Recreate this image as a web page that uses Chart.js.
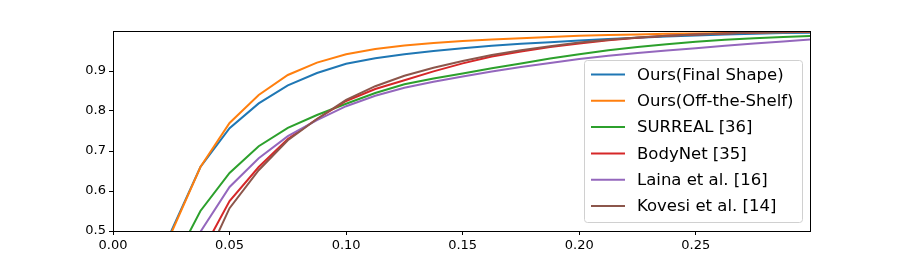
<!DOCTYPE html>
<html>
<head>
<meta charset="utf-8">
<script src="https://cdn.jsdelivr.net/npm/chart.js@4"></script>
<style>
  html, body { margin: 0; padding: 0; background: #fff; }
  #wrap { width: 900px; height: 260px; }
</style>
</head>
<body>
<div id="wrap"><canvas id="pckChart" width="900" height="260"></canvas></div>
<script>
const thresholds = [0, 0.0125, 0.025, 0.0375, 0.05, 0.0625, 0.075, 0.0875, 0.1, 0.1125, 0.125, 0.1375,
  0.15, 0.1625, 0.175, 0.1875, 0.2, 0.2125, 0.225, 0.2375, 0.25, 0.2625, 0.275, 0.2875, 0.3];

const finalShape = [0, 0.2, 0.50, 0.66, 0.757, 0.819, 0.864, 0.895, 0.918, 0.932, 0.942, 0.950,
  0.957, 0.963, 0.968, 0.972, 0.976, 0.980, 0.983, 0.986, 0.989, 0.991, 0.993, 0.995, 0.996];
const offTheShelf = [0, 0.2, 0.495, 0.66, 0.77, 0.84, 0.89, 0.921, 0.942, 0.955, 0.964, 0.970,
  0.975, 0.979, 0.982, 0.985, 0.988, 0.990, 0.991, 0.993, 0.994, 0.995, 0.996, 0.997, 0.998];
const surreal = [0, 0.2, 0.41, 0.55, 0.645, 0.712, 0.758, 0.79, 0.818, 0.845, 0.867, 0.881,
  0.894, 0.907, 0.919, 0.931, 0.942, 0.952, 0.960, 0.967, 0.973, 0.978, 0.982, 0.985, 0.988];
const bodyNet = [0, 0.15, 0.3, 0.44, 0.575, 0.66, 0.73, 0.78, 0.825, 0.855, 0.877, 0.899,
  0.919, 0.936, 0.949, 0.960, 0.969, 0.977, 0.983, 0.988, 0.991, 0.994, 0.996, 0.998, 0.999];
const laina = [0, 0.15, 0.38, 0.498, 0.61, 0.682, 0.737, 0.777, 0.812, 0.838, 0.858, 0.873,
  0.886, 0.899, 0.910, 0.920, 0.930, 0.938, 0.945, 0.951, 0.957, 0.963, 0.969, 0.974, 0.979];
const kovesi = [0, 0.12, 0.26, 0.40, 0.557, 0.652, 0.727, 0.78, 0.828, 0.862, 0.888, 0.908,
  0.925, 0.940, 0.952, 0.962, 0.971, 0.978, 0.984, 0.988, 0.991, 0.994, 0.996, 0.998, 0.999];

const seriesNames = ['Ours(Final Shape)', 'Ours(Off-the-Shelf)', 'SURREAL [36]', 'BodyNet [35]', 'Laina et al. [16]', 'Kovesi et al. [14]'];
const seriesValues = [finalShape, offTheShelf, surreal, bodyNet, laina, kovesi];
const colors = ['#1f77b4', '#ff7f0e', '#2ca02c', '#d62728', '#9467bd', '#8c564b'];

const xTicks = [0, 0.05, 0.1, 0.15, 0.2, 0.25];
const yTicks = [0.5, 0.6, 0.7, 0.8, 0.9];

const FONT = 'DejaVu Sans';

// frame around the plot + legend box inside the plot area
const framePlugin = {
  id: 'frame',
  afterDraw(chart) {
    const { ctx, chartArea: a } = chart;
    ctx.save();
    ctx.strokeStyle = '#000';
    ctx.lineWidth = 1;
    ctx.strokeRect(a.left + 0.5, a.top + 0.5, a.right - a.left, a.bottom - a.top);

    // legend
    const bx = 584.5, by = 60.5, bw = 218, bh = 162;
    ctx.beginPath();
    ctx.roundRect(bx, by, bw, bh, 3);
    ctx.fillStyle = 'rgba(255,255,255,0.8)';
    ctx.fill();
    ctx.strokeStyle = '#d0d0d0';
    ctx.stroke();
    ctx.font = '16.5px "' + FONT + '"';
    ctx.textBaseline = 'middle';
    chart.data.datasets.forEach((ds, i) => {
      const y = 74.5 + i * 26.3;
      ctx.beginPath();
      ctx.moveTo(591, y);
      ctx.lineTo(625, y);
      ctx.strokeStyle = ds.borderColor;
      ctx.lineWidth = 2;
      ctx.stroke();
      ctx.fillStyle = '#000';
      ctx.fillText(ds.label, 637, y + 1);
    });
    ctx.restore();
  }
};

const ctx = document.getElementById('pckChart').getContext('2d');
const chart = new Chart(ctx, {
  type: 'line',
  data: {
    datasets: seriesNames.map((name, i) => ({
      label: name,
      data: thresholds.map((x, j) => ({ x: x, y: seriesValues[i][j] })),
      borderColor: colors[i],
      backgroundColor: colors[i],
      borderWidth: 2,
      pointRadius: 0,
      tension: 0,
      fill: false,
      order: seriesNames.length - i,
    })),
  },
  options: {
    responsive: false,
    animation: false,
    devicePixelRatio: 1,
    layout: { padding: { left: 0, top: 31, right: 90, bottom: 0 } },
    plugins: {
      legend: { display: false },
      tooltip: { enabled: false },
    },
    scales: {
      x: {
        type: 'linear',
        min: 0,
        max: 0.299,
        afterBuildTicks: (s) => { s.ticks = xTicks.map((v) => ({ value: v })); },
        afterFit: (s) => { s.height = 29; },
        grid: { drawOnChartArea: false, drawTicks: true, tickLength: 4, tickColor: '#000' },
        border: { display: true, color: '#000', width: 1 },
        ticks: {
          color: '#000',
          padding: 3,
          maxRotation: 0,
          font: { family: FONT, size: 13 },
          callback: (v) => v.toFixed(2),
        },
      },
      y: {
        type: 'linear',
        min: 0.5,
        max: 1.0,
        afterBuildTicks: (s) => { s.ticks = yTicks.map((v) => ({ value: v })); },
        afterFit: (s) => { s.width = 113; },
        grid: { drawOnChartArea: false, drawTicks: true, tickLength: 4, tickColor: '#000' },
        border: { display: true, color: '#000', width: 1 },
        ticks: {
          color: '#000',
          padding: 3,
          font: { family: FONT, size: 13 },
          callback: (v) => v.toFixed(1),
        },
      },
    },
  },
  plugins: [framePlugin],
});
</script>
</body>
</html>
